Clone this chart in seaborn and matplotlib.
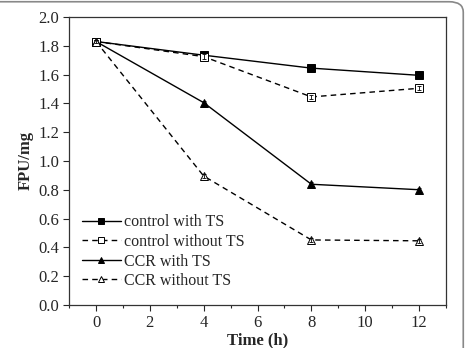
import matplotlib
matplotlib.use("Agg")
import matplotlib.pyplot as plt
from matplotlib.patches import FancyBboxPatch
from matplotlib.ticker import MultipleLocator, FormatStrFormatter
import pandas as pd
import seaborn as sns

# data
time_h = [0, 4, 8, 12]
control_with_ts = [1.83, 1.735, 1.645, 1.595]
control_without_ts = [1.83, 1.725, 1.445, 1.505]
ccr_with_ts = [1.83, 1.405, 0.838, 0.80]
ccr_without_ts = [1.83, 0.895, 0.451, 0.445]
err_small = [0.01, 0.015, 0.015, 0.015]

series = {
    "control with TS": control_with_ts,
    "control without TS": control_without_ts,
    "CCR with TS": ccr_with_ts,
    "CCR without TS": ccr_without_ts,
}
styles = {
    "control with TS": dict(marker="s", ls="-", mfc="black"),
    "control without TS": dict(marker="s", ls="--", mfc="white"),
    "CCR with TS": dict(marker="^", ls="-", mfc="black"),
    "CCR without TS": dict(marker="^", ls="--", mfc="white"),
}

sns.set_style("ticks")
plt.rcParams["font.family"] = ["Liberation Serif", "DejaVu Serif"]

fig = plt.figure(figsize=(4.67, 3.48), dpi=100)
ax = fig.add_axes([0.148, 0.124, 0.807, 0.827])

for name, vals in series.items():
    st = styles[name]
    df = pd.DataFrame({"Time": time_h, "FPU": vals})
    sns.lineplot(data=df, x="Time", y="FPU", ax=ax, color="black", lw=1.0,
                 linestyle=st["ls"], marker=st["marker"], markersize=5.5,
                 markerfacecolor=st["mfc"], markeredgecolor="black",
                 markeredgewidth=0.7, label=name)
    ax.errorbar(time_h, vals, yerr=err_small, fmt="none", ecolor="black",
                elinewidth=0.6, capsize=1.5, capthick=0.6)

for line in ax.get_lines():
    if line.get_linestyle() == "--":
        line.set_dashes((4, 3))

ax.set_xlim(-1, 13)
ax.set_ylim(0, 2.0)
ax.xaxis.set_major_locator(MultipleLocator(2))
ax.xaxis.set_minor_locator(MultipleLocator(1))
ax.yaxis.set_major_locator(MultipleLocator(0.2))
ax.yaxis.set_major_formatter(FormatStrFormatter("%.1f"))
ax.tick_params(axis="both", which="major", labelsize=12, length=4,
               width=0.8, direction="out", top=False, right=False, pad=3)
ax.tick_params(axis="x", which="minor", length=2, width=0.8, direction="out")
for sp in ax.spines.values():
    sp.set_linewidth(0.9)
    sp.set_color("#333333")

ax.set_xlabel("Time (h)", fontsize=12, fontweight="bold", labelpad=1)
ax.set_ylabel("FPU/mg", fontsize=12, fontweight="bold", labelpad=3)

leg = ax.legend(loc="lower left", bbox_to_anchor=(0.035, 0.055), frameon=False,
                fontsize=11.5, handlelength=2.4, handletextpad=0.2,
                labelspacing=0.22, borderaxespad=0, borderpad=0,
                markerscale=0.8)
for h in leg.get_lines():
    if h.get_linestyle() == "--":
        h.set_dashes((4, 3))

# rounded frame around the whole picture
frame = FancyBboxPatch((-0.05, -0.05), 1.042, 1.045,
                       boxstyle="round,pad=0,rounding_size=0.03",
                       transform=fig.transFigure, fill=False,
                       edgecolor="#888888", lw=1.2, clip_on=False)
fig.patches.append(frame)

fig.savefig("out.png", dpi=100)
